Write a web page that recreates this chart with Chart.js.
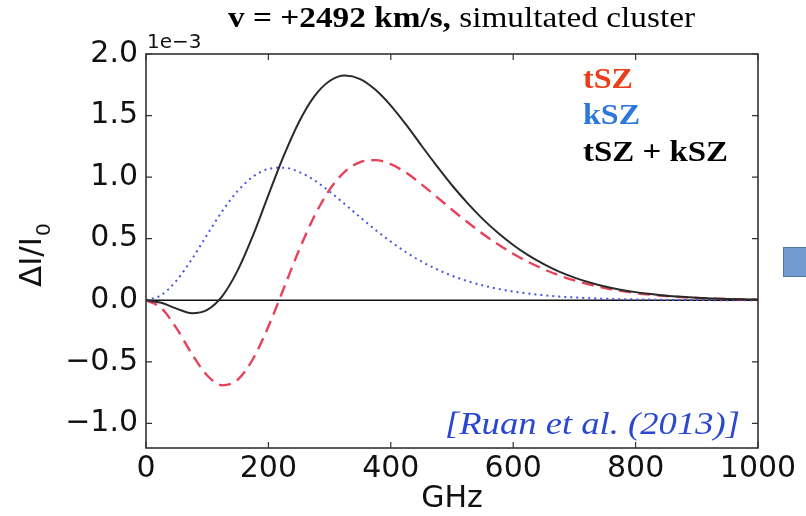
<!DOCTYPE html>
<html>
<head>
<meta charset="utf-8">
<script src="https://cdn.jsdelivr.net/npm/chart.js@4.4.1/dist/chart.umd.min.js"></script>
<style>
  body { margin: 0; background: #fff; }
  canvas { display: block; }
</style>
</head>
<body>
<canvas id="szChart" width="806" height="516"></canvas>
<script>
// frequency grid (GHz) and curves in units of 1e-3
const ghz = [0, 25, 50, 75, 100, 125, 150, 175, 200, 225, 250, 275, 300, 325, 350, 375, 400, 425, 450, 475, 500,
             525, 550, 575, 600, 625, 650, 675, 700, 725, 750, 775, 800, 825, 850, 875, 900, 925, 950, 975, 1000];
const tsz = [0, -0.063, -0.229, -0.436, -0.611, -0.690, -0.644, -0.475, -0.213, 0.095, 0.406, 0.682, 0.898, 1.045, 1.122, 1.138, 1.105, 1.036, 0.942, 0.840, 0.735,
             0.635, 0.540, 0.455, 0.378, 0.310, 0.252, 0.202, 0.161, 0.127, 0.099, 0.077, 0.059, 0.045, 0.034, 0.025, 0.019, 0.014, 0.010, 0.007, 0.005];
const ksz = [0, 0.042, 0.161, 0.334, 0.533, 0.726, 0.889, 1.004, 1.067, 1.077, 1.042, 0.974, 0.883, 0.780, 0.674, 0.571, 0.476, 0.390, 0.315, 0.252, 0.199,
             0.156, 0.121, 0.093, 0.071, 0.054, 0.041, 0.030, 0.023, 0.017, 0.012, 0.009, 0.007, 0.005, 0.003, 0.003, 0.002, 0.001, 0.001, 0.001, 0.001];
const total = [0, -0.021, -0.068, -0.105, -0.078, 0.036, 0.245, 0.529, 0.854, 1.172, 1.448, 1.656, 1.781, 1.825, 1.796, 1.709, 1.581, 1.426, 1.257, 1.092, 0.934,
               0.791, 0.661, 0.548, 0.449, 0.364, 0.293, 0.232, 0.184, 0.144, 0.111, 0.086, 0.066, 0.050, 0.037, 0.028, 0.021, 0.015, 0.011, 0.008, 0.006];

const xTicks = [0, 200, 400, 600, 800, 1000];
const yTicks = [-1.0, -0.5, 0.0, 0.5, 1.0, 1.5, 2.0];

const pts = ys => ghz.map((g, i) => ({ x: g, y: ys[i] }));

// draw text squeezed/stretched to a target width
function fitText(ctx, text, x, y, width) {
    const w = ctx.measureText(text).width;
    ctx.save();
    ctx.translate(x, y);
    ctx.scale(width / w, 1);
    ctx.fillText(text, 0, 0);
    ctx.restore();
}

const decorations = {
    id: 'decorations',
    beforeDatasetsDraw(chart) {
        const { ctx, chartArea: a, scales: { y } } = chart;
        const y0 = y.getPixelForValue(0);
        ctx.save();
        ctx.strokeStyle = '#111';
        ctx.lineWidth = 1.5;
        ctx.beginPath();
        ctx.moveTo(a.left, y0);
        ctx.lineTo(a.right, y0);
        ctx.stroke();
        ctx.restore();
    },
    afterDraw(chart) {
        const { ctx, chartArea: a, scales: { x, y } } = chart;
        ctx.save();
        // frame and inward ticks
        ctx.strokeStyle = '#333';
        ctx.lineWidth = 1.6;
        ctx.strokeRect(a.left, a.top, a.right - a.left, a.bottom - a.top);
        ctx.lineWidth = 1.2;
        ctx.beginPath();
        xTicks.forEach(v => {
            const px = x.getPixelForValue(v);
            ctx.moveTo(px, a.bottom); ctx.lineTo(px, a.bottom - 6);
            ctx.moveTo(px, a.top); ctx.lineTo(px, a.top + 6);
        });
        yTicks.forEach(v => {
            const py = y.getPixelForValue(v);
            ctx.moveTo(a.left, py); ctx.lineTo(a.left + 6, py);
            ctx.moveTo(a.right, py); ctx.lineTo(a.right - 6, py);
        });
        ctx.stroke();

        // offset text
        ctx.fillStyle = '#111';
        ctx.textAlign = 'left';
        ctx.textBaseline = 'alphabetic';
        ctx.font = '20px "DejaVu Sans"';
        ctx.fillText('1e\u22123', 147, 48);

        // axis titles
        ctx.font = '30px "DejaVu Sans"';
        ctx.textAlign = 'center';
        ctx.fillText('GHz', (a.left + a.right) / 2, 507);

        ctx.save();
        ctx.translate(41, 287);
        ctx.rotate(-Math.PI / 2);
        ctx.textAlign = 'left';
        ctx.font = '31px "DejaVu Sans"';
        const main = '\u0394I/I';
        ctx.fillText(main, 0, 0);
        const mw = ctx.measureText(main).width;
        ctx.font = '20px "DejaVu Sans"';
        ctx.fillText('0', mw + 1, 9);
        ctx.restore();

        // title: bold part + regular part
        ctx.textAlign = 'left';
        const tBold = 'v = +2492 km/s,';
        const tReg = ' simultated cluster';
        ctx.font = 'bold 29px "Liberation Serif"';
        const wb = ctx.measureText(tBold).width;
        ctx.font = '29px "Liberation Serif"';
        const wr = ctx.measureText(tReg).width;
        const s = 467 / (wb + wr);
        ctx.save();
        ctx.translate(228, 27);
        ctx.scale(s, 1);
        ctx.fillStyle = '#000';
        ctx.font = 'bold 29px "Liberation Serif"';
        ctx.fillText(tBold, 0, 0);
        ctx.font = '29px "Liberation Serif"';
        ctx.fillText(tReg, wb, 0);
        ctx.restore();

        // in-plot legend labels
        ctx.font = 'bold 30px "Liberation Serif"';
        ctx.fillStyle = '#e8401c';
        fitText(ctx, 'tSZ', 583, 88, 50);
        ctx.fillStyle = '#2d78dc';
        fitText(ctx, 'kSZ', 583, 124, 57);
        ctx.fillStyle = '#000';
        fitText(ctx, 'tSZ + kSZ', 583, 161, 145);

        // citation
        ctx.font = 'italic 32px "Liberation Serif"';
        ctx.fillStyle = '#2a48d0';
        fitText(ctx, '[Ruan et al. (2013)]', 445, 434, 295);

        // slide block at right edge
        ctx.fillStyle = '#729bd0';
        ctx.strokeStyle = '#4f74aa';
        ctx.lineWidth = 1;
        ctx.fillRect(783, 247, 30, 30);
        ctx.strokeRect(783.5, 247.5, 30, 29);
        ctx.restore();
    }
};

new Chart(document.getElementById('szChart').getContext('2d'), {
    type: 'line',
    data: {
        datasets: [
            {
                label: 'tSZ + kSZ',
                data: pts(total),
                borderColor: '#2a2a2a',
                borderWidth: 2,
                pointRadius: 0,
                cubicInterpolationMode: 'monotone'
            },
            {
                label: 'tSZ',
                data: pts(tsz),
                borderColor: '#e8425a',
                borderWidth: 2.4,
                borderDash: [12, 7],
                pointRadius: 0,
                cubicInterpolationMode: 'monotone'
            },
            {
                label: 'kSZ',
                data: pts(ksz),
                borderColor: '#4a55dc',
                borderWidth: 2,
                borderDash: [2, 4],
                pointRadius: 0,
                cubicInterpolationMode: 'monotone'
            }
        ]
    },
    options: {
        responsive: false,
        animation: false,
        layout: { padding: { left: 0, top: 54, right: 48, bottom: 0 } },
        plugins: {
            legend: { display: false },
            tooltip: { enabled: false }
        },
        scales: {
            x: {
                type: 'linear',
                min: 0,
                max: 1000,
                grid: { display: false, drawTicks: false },
                border: { display: false },
                afterBuildTicks: s => { s.ticks = xTicks.map(v => ({ value: v })); },
                afterFit: s => { s.height = 68; },
                ticks: {
                    color: '#111',
                    padding: 3,
                    maxRotation: 0,
                    font: { family: 'DejaVu Sans', size: 30 },
                    callback: v => String(v)
                }
            },
            y: {
                min: -1.2,
                max: 2.0,
                grid: { display: false, drawTicks: false },
                border: { display: false },
                afterBuildTicks: s => { s.ticks = yTicks.map(v => ({ value: v })); },
                afterFit: s => { s.width = 146; },
                ticks: {
                    color: '#111',
                    padding: 8,
                    font: { family: 'DejaVu Sans', size: 30 },
                    callback: v => (v < 0 ? '\u2212' : '') + Math.abs(v).toFixed(1)
                }
            }
        }
    },
    plugins: [decorations]
});
</script>
</body>
</html>
